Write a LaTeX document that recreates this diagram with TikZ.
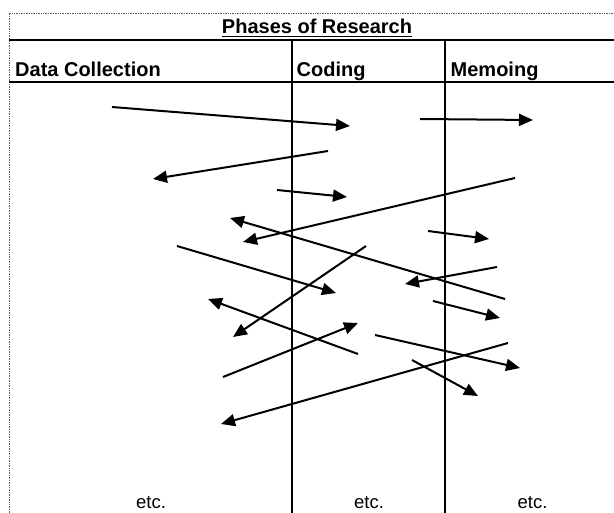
\documentclass[tikz,border=0pt]{standalone}
\usepackage{fontspec}
\setmainfont{Liberation Sans}
\usetikzlibrary{arrows.meta,calc}

\begin{document}
\begin{tikzpicture}[x=1pt,y=-1pt,
  frame/.style={line width=0.7pt, densely dotted, black!65},
  rule/.style={line width=2.2pt},
  head/.style={font=\fontsize{20}{24}\selectfont\bfseries, inner sep=0pt, anchor=base west},
  etcnote/.style={font=\fontsize{18.5}{22}\selectfont, inner sep=0pt, anchor=base},
  link/.style={line width=2pt, -{Triangle[length=14pt,width=12pt]}}]

\useasboundingbox (0,0) rectangle (614,513);

% outer frame (dotted) and table rules
\draw[frame] (9,513) -- (9,13) -- (614,13);
\draw[rule] (9,40) -- (614,40);
\draw[rule] (9,82) -- (614,82);
\draw[rule] (292,40) -- (292,513);
\draw[rule] (445,40) -- (445,513);

% title and column headings
\node[head, anchor=base] (title) at (317,34) {Phases of Research};
\draw[line width=1.6pt] ($(title.base west)+(0,2.6)$) -- ($(title.base east)+(0,2.6)$);
\node[head] (dc) at (15,76.5) {Data Collection};
\node[head] (coding) at (296.5,76.5) {Coding};
\node[head] (memo) at (450.5,76.5) {Memoing};

% trailing notes
\node[etcnote] (etc1) at (151,508) {etc.};
\node[etcnote] (etc2) at (369,508) {etc.};
\node[etcnote] (etc3) at (532.5,508) {etc.};

% movements between the phases
\foreach \i/\sx/\sy/\ex/\ey in {
  1/112/107/350/126,
  2/328/151/153/179,
  3/420/119/533/120,
  4/277/190/347/197,
  5/515/178/243/242,
  6/505/299/230/218,
  7/428/231/489/239,
  8/177/246/336/293,
  9/366/246/233/337,
  10/497/267/405/284,
  11/433/301/500/318,
  12/358/354/208/299,
  13/223/377/358/323,
  14/375/335/520/368,
  15/412/360/478/396,
  16/508/343/221/424}{
  \coordinate (s\i) at (\sx,\sy);
  \coordinate (e\i) at (\ex,\ey);
  \draw[link] (s\i) -- (e\i);
}
\end{tikzpicture}
\end{document}
